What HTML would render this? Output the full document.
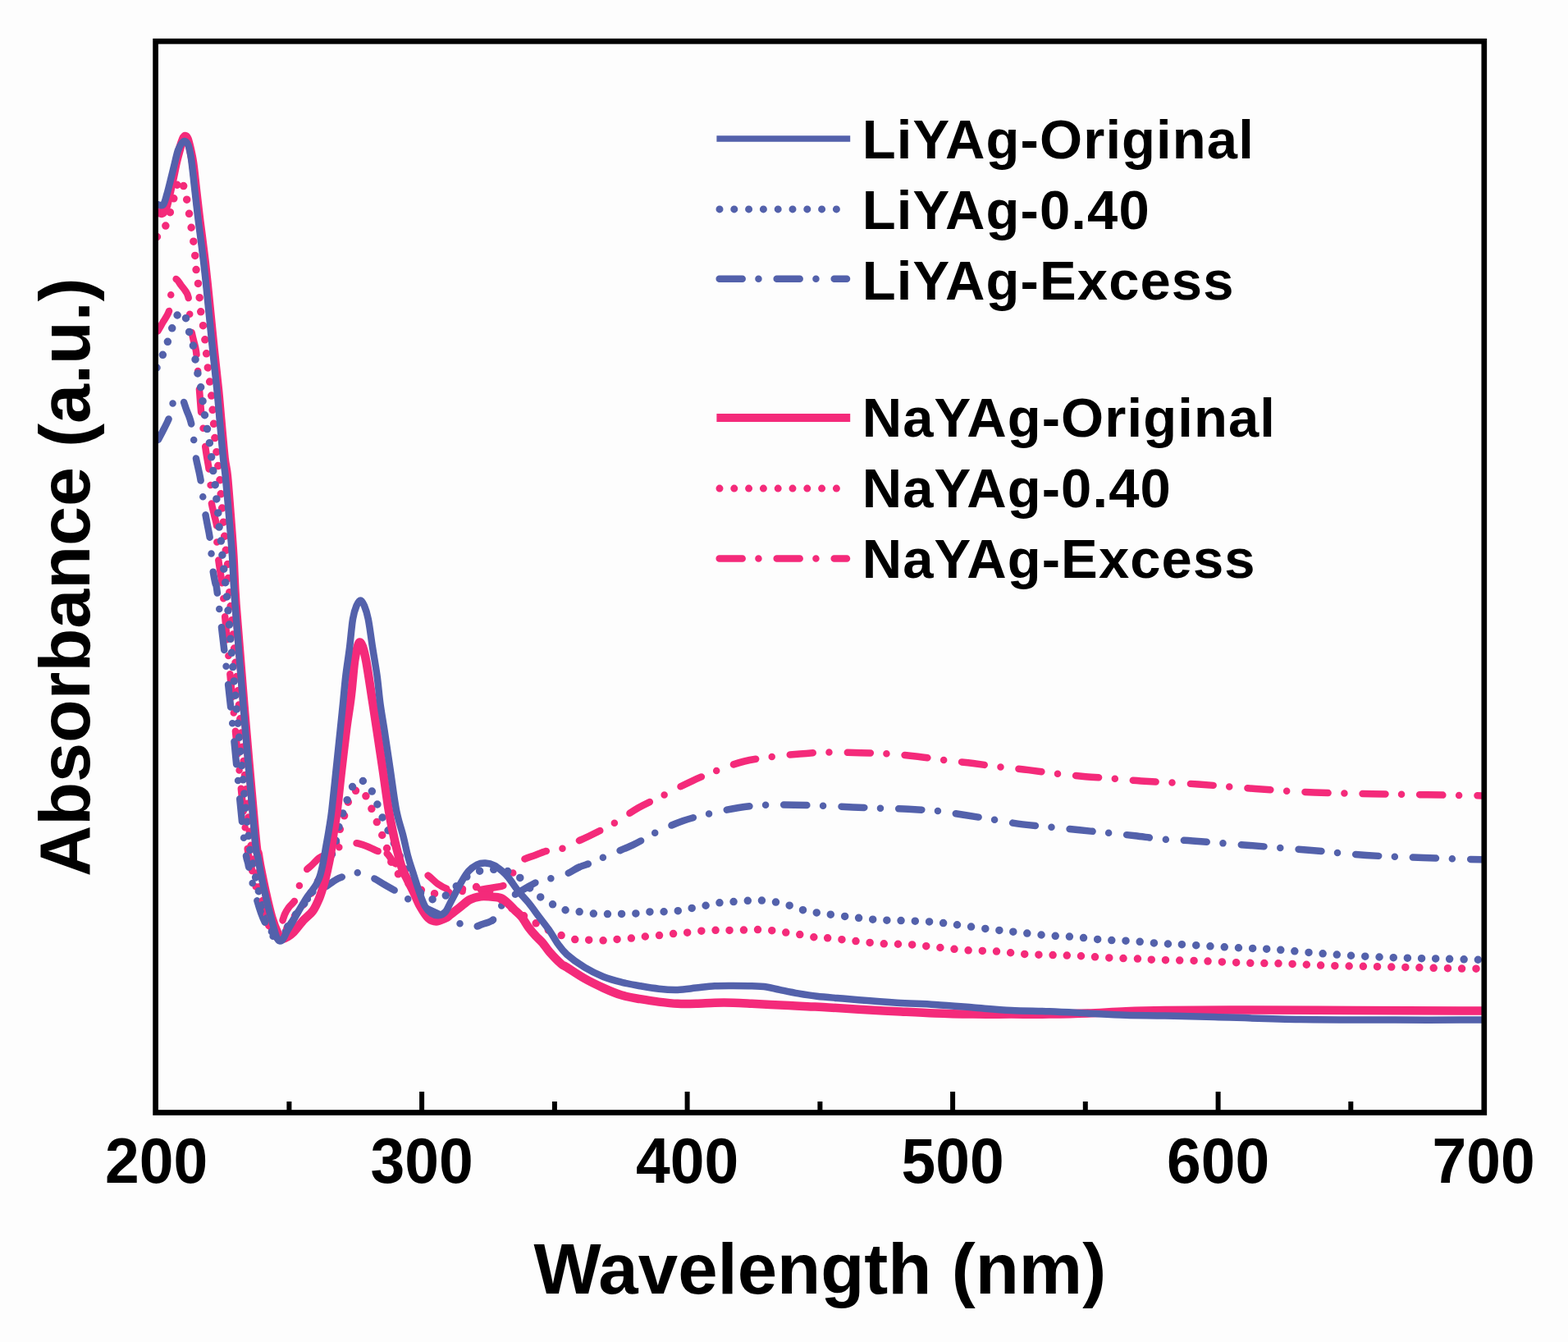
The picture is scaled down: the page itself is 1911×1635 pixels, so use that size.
<!DOCTYPE html>
<html><head><meta charset="utf-8"><style>
html,body{margin:0;padding:0;background:#fdfdfd;overflow:hidden;width:1911px;height:1635px;}
svg{display:block;}
text{font-family:"Liberation Sans",Arial,sans-serif;font-weight:bold;fill:#000;}
.tk{font-size:75px;}
.lg{font-size:67px;letter-spacing:1.1px;}
.ax{font-size:87px;}
</style></head><body>
<svg width="1911" height="1635" viewBox="0 0 1911 1635">
<rect width="1911" height="1635" fill="#fdfdfd"/>
<defs><clipPath id="c"><rect x="192" y="53" width="1614" height="1300"/></clipPath></defs>
<g clip-path="url(#c)">
<path d="M190.5,406.5 C191.8,404.3 195.4,398.1 198.0,393.5 C200.6,388.9 204.3,384.4 206.0,379.0 C207.7,373.6 207.3,366.2 208.0,361.0 C208.7,355.8 209.2,351.5 210.0,348.0 C210.8,344.5 211.5,341.2 212.5,340.0 C213.5,338.8 214.6,339.7 216.0,341.0 C217.4,342.3 219.3,345.8 221.0,348.0 C222.7,350.2 224.6,352.2 226.0,354.5 C227.4,356.8 228.7,357.8 229.5,362.0 C230.3,366.2 230.5,373.9 231.0,380.0 C231.5,386.1 231.8,392.8 232.5,398.3 C233.2,403.8 234.4,408.1 235.5,413.0 C236.6,417.9 238.1,421.8 239.0,428.0 C239.9,434.2 240.3,442.2 241.0,450.0 C241.7,457.8 242.3,466.6 243.0,475.0 C243.7,483.4 244.3,492.9 245.0,500.5 C245.7,508.1 246.7,514.4 247.4,520.8 C248.2,527.2 248.7,533.1 249.5,539.0 C250.3,544.9 251.1,550.5 252.0,556.0 C252.9,561.5 253.9,566.2 254.7,572.0 C255.5,577.8 256.1,584.2 256.6,590.8 C257.1,597.3 256.9,605.3 257.6,611.3 C258.3,617.3 259.9,621.8 261.0,627.0 C262.1,632.2 263.8,636.7 264.4,642.6 C265.0,648.5 264.1,656.0 264.4,662.2 C264.7,668.4 265.3,674.2 266.0,680.0 C266.7,685.8 267.6,691.2 268.5,697.0 C269.4,702.8 270.6,709.2 271.3,715.0 C272.0,720.8 270.4,707.4 272.5,731.6 C274.6,755.8 279.4,811.9 284.0,860.0 C288.6,908.1 296.3,987.5 300.0,1020.0" fill="none" stroke="#F42A7A" stroke-width="8.5" stroke-linejoin="round" stroke-linecap="round" stroke-dasharray="28 19.75 0 22.25" stroke-dashoffset="66.29"/>
<path d="M300.0,1020.0 C303.7,1052.5 303.8,1044.2 306.0,1055.0 C308.2,1065.8 310.5,1075.5 313.0,1085.0 C315.5,1094.5 318.3,1104.3 321.0,1112.0 C323.7,1119.7 326.5,1125.8 329.0,1131.0 C331.5,1136.2 333.9,1143.7 336.0,1143.5 C338.1,1143.3 339.9,1134.9 341.7,1130.0 C343.5,1125.1 345.3,1118.1 347.0,1114.0 C348.7,1109.9 349.8,1108.5 352.0,1105.5 C354.2,1102.5 357.9,1100.4 360.0,1096.0 C362.1,1091.6 363.0,1084.8 364.8,1079.3 C366.6,1073.8 368.5,1067.2 371.0,1063.0 C373.5,1058.8 376.9,1057.0 380.0,1054.0 C383.1,1051.0 386.2,1047.3 389.5,1045.0 C392.8,1042.7 396.6,1041.8 400.0,1040.0 C403.4,1038.2 406.7,1035.8 410.0,1034.0 C413.3,1032.2 416.8,1030.7 420.0,1029.5 C423.2,1028.3 426.0,1027.2 429.0,1027.0 C432.0,1026.8 435.0,1027.3 438.0,1028.0 C441.0,1028.7 443.2,1029.5 447.0,1031.0 C450.8,1032.5 456.4,1035.5 460.5,1037.0 C464.6,1038.5 468.4,1037.7 471.7,1040.0" fill="none" stroke="#F42A7A" stroke-width="8.5" stroke-linejoin="round" stroke-linecap="round" stroke-dasharray="28 19.75 0 22.25" stroke-dashoffset="56.35"/>
<path d="M471.7,1040.0 C475.0,1042.3 476.9,1048.3 480.3,1051.0 C483.7,1053.7 487.6,1054.5 492.0,1056.0 C496.4,1057.5 501.9,1058.0 506.8,1059.7 C511.7,1061.5 517.0,1063.7 521.4,1066.5 C525.8,1069.3 529.5,1074.0 533.4,1076.8 C537.3,1079.5 540.6,1081.5 545.0,1083.0 C549.4,1084.5 554.7,1085.7 560.0,1086.0 C565.3,1086.3 571.5,1085.5 577.0,1085.0 C582.5,1084.5 588.3,1083.5 592.8,1082.8 C597.3,1082.1 600.4,1081.7 604.0,1081.0 C607.6,1080.3 611.4,1080.5 614.2,1078.5 C617.0,1076.5 618.8,1072.0 621.0,1069.0 C623.2,1066.0 625.0,1064.0 627.7,1060.5 C630.5,1057.0 633.5,1050.9 637.5,1047.8 C641.5,1044.7 647.1,1043.9 652.0,1042.0 C656.9,1040.1 661.7,1038.0 667.0,1036.6 C672.3,1035.2 680.2,1034.2 684.0,1033.8 C687.8,1033.3 687.3,1035.0 690.0,1033.9 C692.7,1032.8 695.5,1029.5 700.0,1027.0" fill="none" stroke="#F42A7A" stroke-width="8.5" stroke-linejoin="round" stroke-linecap="round" stroke-dasharray="28 19.75 0 22.25" stroke-dashoffset="11.58"/>
<path d="M700.0,1027.0 C704.5,1024.5 708.9,1023.1 717.2,1019.0 C725.5,1014.9 739.8,1008.0 750.0,1002.2 C760.2,996.4 768.3,989.6 778.3,984.0 C788.3,978.4 799.1,973.8 810.0,968.3 C820.9,962.8 832.8,956.4 843.9,951.3 C855.0,946.2 866.2,941.7 876.7,937.7 C887.2,933.7 896.5,930.1 907.2,927.5 C918.0,924.9 929.9,923.4 941.2,921.9 C952.5,920.4 963.5,919.4 975.0,918.5 C986.5,917.6 997.7,916.7 1010.0,916.5 C1022.3,916.3 1036.5,916.9 1048.8,917.2 C1061.1,917.5 1072.1,917.6 1083.7,918.4 C1095.3,919.2 1106.8,920.4 1118.6,921.8 C1130.4,923.1 1143.4,925.1 1154.6,926.5 C1165.8,927.9 1175.2,928.6 1186.0,930.0 C1196.8,931.4 1208.5,933.2 1219.7,934.6 C1230.9,936.0 1241.8,936.7 1253.4,938.1 C1265.0,939.5 1277.8,941.4 1289.4,942.8 C1301.0,944.1 1311.6,945.2 1323.0,946.2 C1334.4,947.2 1346.8,947.7 1358.0,948.6 C1369.2,949.5 1373.4,950.4 1390.5,951.5 C1407.6,952.6 1437.2,953.9 1460.4,955.5 C1483.7,957.1 1506.4,959.3 1530.0,961.0 C1553.6,962.7 1578.3,964.5 1602.0,965.5 C1625.7,966.5 1649.1,966.7 1672.0,967.2 C1694.9,967.7 1716.1,967.9 1739.4,968.3 C1762.7,968.7 1799.9,969.3 1812.0,969.5" fill="none" stroke="#F42A7A" stroke-width="8.5" stroke-linejoin="round" stroke-linecap="round" stroke-dasharray="28 19.75 0 22.25" stroke-dashoffset="63.30"/>
<path d="M190.5,540.0 C191.8,537.7 195.8,530.3 198.0,526.0 C200.2,521.7 202.4,517.5 204.0,514.0 C205.6,510.5 206.4,508.8 207.5,505.0 C208.6,501.2 209.6,494.3 210.7,491.0 C211.8,487.7 212.9,486.3 214.0,485.0 C215.1,483.7 216.0,483.2 217.0,483.0 C218.0,482.8 219.1,483.5 220.0,484.0 C220.9,484.5 221.3,483.3 222.6,486.0 C223.8,488.7 225.8,495.3 227.5,500.0 C229.2,504.7 231.3,508.6 232.7,514.4 C234.1,520.2 235.0,527.7 236.0,534.6 C237.0,541.5 237.6,549.8 238.5,555.7 C239.4,561.6 240.5,565.3 241.5,570.0 C242.5,574.7 243.4,578.1 244.4,584.0 C245.4,589.9 246.4,598.9 247.3,605.4 C248.2,611.9 248.9,617.4 249.8,623.0 C250.7,628.6 251.7,633.8 252.7,639.0 C253.7,644.2 254.8,648.3 255.6,654.3 C256.4,660.3 256.9,668.0 257.6,674.9 C258.3,681.8 258.8,689.4 259.6,695.4 C260.4,701.4 261.5,705.8 262.5,711.0 C263.5,716.2 262.3,701.9 265.4,726.7 C268.5,751.5 275.7,811.1 281.0,860.0 C286.3,908.9 293.3,987.5 297.0,1020.0 C300.7,1052.5 300.8,1044.2 303.0,1055.0" fill="none" stroke="#5361AB" stroke-width="8.5" stroke-linejoin="round" stroke-linecap="round" stroke-dasharray="28 19.75 0 22.25" stroke-dashoffset="64.94"/>
<path d="M303.0,1055.0 C305.2,1065.8 307.5,1075.5 310.0,1085.0 C312.5,1094.5 315.3,1104.5 318.0,1112.0 C320.7,1119.5 323.3,1124.9 326.0,1130.0 C328.7,1135.1 331.7,1140.0 334.0,1142.5 C336.3,1145.0 337.8,1146.1 340.0,1145.0 C342.2,1143.9 344.2,1140.0 347.0,1136.0 C349.8,1132.0 353.5,1126.3 357.0,1121.0 C360.5,1115.7 364.2,1109.2 368.0,1104.0 C371.8,1098.8 376.0,1093.7 380.0,1090.0 C384.0,1086.3 389.0,1083.7 392.0,1082.0 C395.0,1080.3 394.8,1081.5 397.8,1079.8 C400.8,1078.0 405.9,1073.7 410.0,1071.5 C414.1,1069.3 418.9,1067.8 422.6,1066.6 C426.3,1065.3 428.9,1064.5 432.0,1064.0 C435.1,1063.5 437.6,1062.5 441.5,1063.5 C445.4,1064.5 451.0,1067.6 455.6,1070.0 C460.2,1072.4 464.3,1075.3 469.0,1078.0 C473.7,1080.7 479.1,1083.6 483.7,1086.4 C488.3,1089.2 492.1,1092.2 496.5,1094.8 C500.9,1097.4 505.2,1099.6 510.0,1102.0 C514.8,1104.4 520.0,1106.7 525.0,1109.0 C530.0,1111.3 534.9,1113.7 540.0,1116.0 C545.1,1118.3 551.3,1121.1 555.6,1123.0 C559.9,1124.9 562.6,1126.3 566.0,1127.5 C569.4,1128.7 572.5,1130.2 576.2,1129.9 C579.9,1129.7 584.0,1127.4 588.0,1126.0 C592.0,1124.6 597.2,1123.5 600.1,1121.3" fill="none" stroke="#5361AB" stroke-width="8.5" stroke-linejoin="round" stroke-linecap="round" stroke-dasharray="28 19.75 0 22.25" stroke-dashoffset="26.39"/>
<path d="M600.1,1121.3 C603.0,1119.1 603.7,1115.8 605.5,1113.0 C607.3,1110.2 608.7,1107.0 610.8,1104.2 C612.9,1101.4 615.6,1098.2 618.0,1096.0 C620.4,1093.8 621.7,1093.5 625.4,1091.3 C629.1,1089.0 635.0,1085.3 640.0,1082.5 C645.0,1079.7 650.0,1076.3 655.3,1074.2 C660.6,1072.1 666.1,1071.6 672.0,1070.0 C677.9,1068.4 684.8,1067.0 690.4,1064.8 C696.0,1062.5 700.6,1058.8 705.8,1056.5" fill="none" stroke="#5361AB" stroke-width="8.5" stroke-linejoin="round" stroke-linecap="round" stroke-dasharray="28 19.75 0 22.25" stroke-dashoffset="26.76"/>
<path d="M705.8,1056.5 C710.9,1054.2 715.8,1053.2 721.3,1051.0 C726.8,1048.8 730.3,1046.6 738.7,1043.0 C747.1,1039.4 761.1,1034.3 771.5,1029.4 C781.9,1024.5 790.7,1018.4 800.9,1013.5 C811.1,1008.6 821.7,1003.8 832.6,1000.0 C843.5,996.2 855.2,993.6 866.5,990.9 C877.8,988.2 889.4,985.7 900.5,984.0 C911.6,982.3 922.0,981.2 933.3,980.7 C944.6,980.2 956.4,980.5 968.3,980.7 C980.2,980.9 992.6,981.3 1004.5,981.8 C1016.4,982.2 1028.2,982.9 1039.5,983.4 C1050.8,983.9 1060.8,984.2 1072.0,984.6 C1083.2,985.0 1095.4,985.2 1107.0,985.8 C1118.6,986.4 1130.6,986.9 1141.8,988.0 C1153.0,989.1 1162.9,991.0 1174.3,992.7 C1185.7,994.5 1198.4,996.5 1210.4,998.5 C1222.4,1000.5 1234.6,1002.9 1246.4,1004.4 C1258.2,1005.9 1269.7,1006.6 1281.3,1007.8 C1292.9,1008.9 1304.4,1010.1 1316.0,1011.3 C1327.6,1012.5 1339.8,1013.6 1351.0,1014.8 C1362.2,1016.0 1372.3,1017.0 1383.5,1018.3 C1394.7,1019.6 1406.7,1021.5 1418.4,1022.5 C1430.1,1023.5 1436.0,1023.2 1453.5,1024.5 C1471.0,1025.8 1499.6,1028.1 1523.2,1030.0 C1546.8,1031.9 1571.7,1033.7 1595.3,1035.7 C1618.9,1037.7 1641.8,1040.5 1665.0,1042.0 C1688.2,1043.5 1710.2,1044.1 1734.7,1045.0 C1759.2,1045.9 1799.1,1047.1 1812.0,1047.5" fill="none" stroke="#5361AB" stroke-width="8.5" stroke-linejoin="round" stroke-linecap="round" stroke-dasharray="28 19.75 0 22.25" stroke-dashoffset="16.17"/>
<path d="M191.4,288.5 C192.3,287.4 195.2,284.4 197.0,282.0 C198.8,279.6 200.7,277.9 202.4,273.9 C204.2,269.9 205.8,263.8 207.5,258.0 C209.2,252.2 211.1,244.5 212.5,239.0 C213.9,233.5 214.8,228.4 216.0,225.0 C217.2,221.6 218.2,218.3 219.5,218.5 C220.8,218.7 222.4,223.1 223.5,226.0 C224.6,228.9 225.2,232.8 226.0,236.0 C226.8,239.2 227.3,240.9 228.1,245.4 C228.9,249.9 230.0,257.0 230.9,262.8 C231.8,268.6 232.7,274.4 233.6,280.3 C234.5,286.2 235.6,292.2 236.4,298.3 C237.2,304.4 237.7,310.7 238.2,316.6 C238.7,322.6 238.9,328.3 239.6,334.0 C240.3,339.7 241.6,345.1 242.3,351.0 C243.0,356.9 243.1,363.4 243.7,369.4 C244.2,375.4 244.8,381.1 245.6,386.8 C246.4,392.5 248.0,397.9 248.8,403.8 C249.6,409.7 250.0,416.2 250.6,422.0 C251.2,427.8 251.8,432.5 252.4,438.3 C253.0,444.1 253.5,450.7 254.3,456.6 C255.1,462.6 256.3,468.0 257.0,474.0 C257.7,480.0 257.9,486.4 258.4,492.4 C258.9,498.4 259.8,504.0 260.2,509.8 C260.6,515.6 260.6,521.4 261.1,527.2 C261.6,533.0 262.8,539.2 263.4,544.7 C264.0,550.2 264.1,554.5 264.8,560.3 C265.5,566.1 266.8,573.3 267.5,579.4 C268.2,585.5 268.3,591.1 268.8,597.0 C269.3,602.9 269.8,609.1 270.3,615.0 C270.8,620.9 271.5,626.9 272.0,632.6 C272.5,638.3 272.9,643.8 273.3,649.4 C273.8,655.0 274.1,660.3 274.7,666.0 C275.3,671.7 276.6,678.0 277.2,683.7 C277.8,689.4 277.9,694.3 278.3,700.3 C278.7,706.3 277.4,693.2 279.6,719.8 C281.8,746.4 287.3,810.0 291.5,860.0 C295.7,910.0 301.9,988.3 305.0,1020.0 C308.1,1051.7 308.2,1040.0 310.0,1050.0 C311.8,1060.0 313.7,1070.0 316.0,1080.0 C318.3,1090.0 321.5,1101.7 324.0,1110.0 C326.5,1118.3 328.8,1124.5 331.0,1130.0 C333.2,1135.5 335.5,1141.0 337.5,1143.0 C339.5,1145.0 340.8,1144.3 343.0,1142.0 C345.2,1139.7 347.7,1134.2 351.0,1129.0 C354.3,1123.8 358.8,1117.0 363.0,1111.0 C367.2,1105.0 371.7,1099.7 376.0,1093.0 C380.3,1086.3 385.0,1078.5 389.0,1071.0 C393.0,1063.5 396.9,1054.0 400.0,1048.0 C403.1,1042.0 405.9,1039.7 407.7,1035.0 C409.5,1030.3 409.6,1024.9 411.0,1020.0 C412.4,1015.1 414.3,1010.7 416.0,1005.5 C417.7,1000.3 419.4,994.5 421.0,989.0 C422.6,983.5 424.2,976.5 425.9,972.5 C427.6,968.5 429.1,966.8 431.0,965.0 C432.9,963.2 435.7,962.3 437.5,962.0 C439.3,961.7 440.0,960.5 442.0,963.0 C444.0,965.5 446.9,971.8 449.3,976.9 C451.7,982.0 453.8,987.8 456.1,993.5 C458.4,999.2 460.8,1005.4 463.0,1011.0 C465.2,1016.6 467.5,1021.0 469.6,1027.0 C471.7,1033.0 473.3,1041.3 475.4,1046.8 C477.5,1052.3 479.6,1056.1 482.0,1060.0 C484.4,1063.9 486.7,1066.8 490.0,1070.0 C493.3,1073.2 497.8,1076.5 502.0,1079.0 C506.2,1081.5 510.9,1083.4 515.0,1085.0 C519.1,1086.6 521.7,1088.0 526.5,1088.5 C531.3,1089.0 538.0,1088.8 543.6,1088.0 C549.2,1087.2 554.4,1085.2 560.0,1084.0 C565.6,1082.8 571.6,1080.6 577.0,1080.5 C582.4,1080.4 587.5,1081.4 592.5,1083.5 C597.5,1085.6 602.4,1089.6 607.0,1093.0 C611.6,1096.4 615.5,1100.7 620.0,1104.0 C624.5,1107.3 629.2,1110.0 634.0,1113.0 C638.8,1116.0 643.5,1119.0 648.5,1122.0 C653.5,1125.0 658.9,1128.4 664.0,1131.0 C669.1,1133.6 673.8,1135.4 679.3,1137.6 C684.8,1139.8 691.5,1142.8 697.0,1144.0 C702.5,1145.2 707.0,1144.5 712.6,1144.8 C718.2,1145.1 725.0,1145.9 730.7,1145.9 C736.4,1145.9 740.9,1145.2 746.6,1144.8 C752.3,1144.4 758.9,1144.2 764.7,1143.6 C770.5,1143.0 776.0,1142.0 781.6,1141.4 C787.2,1140.8 792.9,1140.8 798.6,1140.2 C804.3,1139.6 809.9,1138.6 815.6,1138.0 C821.3,1137.4 826.8,1137.4 832.6,1136.8 C838.5,1136.2 844.7,1135.2 850.7,1134.6 C856.7,1134.0 863.1,1133.6 868.8,1133.4 C874.4,1133.2 879.0,1133.4 884.6,1133.4 C890.2,1133.4 896.9,1133.4 902.7,1133.2 C908.6,1133.0 913.9,1132.5 919.7,1132.5 C925.6,1132.5 931.9,1132.9 937.8,1133.4 C943.6,1133.9 949.1,1134.9 954.8,1135.7 C960.4,1136.5 966.1,1137.0 971.7,1138.0 C977.4,1139.0 983.0,1140.7 988.7,1141.4 C994.4,1142.2 997.2,1141.7 1005.7,1142.5 C1014.2,1143.3 1028.0,1145.0 1039.5,1146.2 C1051.0,1147.4 1062.8,1148.8 1074.4,1149.6 C1086.0,1150.4 1097.7,1150.0 1109.3,1150.8 C1120.9,1151.6 1132.5,1153.1 1144.1,1154.3 C1155.7,1155.5 1167.4,1157.0 1179.0,1157.8 C1190.6,1158.6 1202.3,1158.2 1213.9,1159.0 C1225.5,1159.8 1237.1,1161.6 1248.7,1162.4 C1260.3,1163.2 1272.0,1163.2 1283.6,1163.6 C1295.2,1164.0 1306.9,1164.2 1318.5,1164.8 C1330.1,1165.4 1341.3,1166.4 1353.3,1167.0 C1365.3,1167.6 1381.2,1167.8 1390.5,1168.2 C1399.8,1168.6 1397.3,1169.0 1409.0,1169.4 C1420.7,1169.8 1442.9,1170.0 1460.4,1170.6 C1477.9,1171.2 1496.6,1172.4 1514.0,1173.0 C1531.4,1173.6 1547.6,1173.4 1565.0,1174.0 C1582.4,1174.6 1600.7,1175.8 1618.5,1176.4 C1636.3,1177.0 1654.6,1177.1 1672.0,1177.5 C1689.4,1177.9 1706.0,1178.3 1723.0,1178.7 C1740.0,1179.1 1759.2,1179.7 1774.0,1179.9 C1788.8,1180.2 1805.7,1180.2 1812.0,1180.2" fill="none" stroke="#F42A7A" stroke-width="9.5" stroke-linejoin="round" stroke-linecap="round" stroke-dasharray="0 17.2"/>
<path d="M191.0,448.0 C192.3,445.2 196.4,437.0 198.8,431.3 C201.2,425.6 203.2,419.6 205.2,413.9 C207.2,408.2 209.0,401.7 210.7,396.9 C212.4,392.1 213.8,387.9 215.5,385.0 C217.2,382.1 219.3,379.5 221.0,379.5 C222.7,379.5 224.2,382.4 225.5,385.0 C226.8,387.6 227.4,390.9 228.5,395.0 C229.6,399.1 230.4,404.0 231.8,409.3 C233.2,414.6 235.7,420.9 236.8,426.7 C238.0,432.4 237.8,438.1 238.7,443.8 C239.6,449.6 241.1,455.4 242.3,461.2 C243.5,467.0 245.1,472.8 246.0,478.6 C246.9,484.4 247.0,490.2 247.8,496.0 C248.6,501.8 250.0,507.7 251.0,513.5 C252.0,519.3 252.8,525.0 253.8,531.0 C254.8,537.0 256.2,543.5 257.0,549.3 C257.8,555.1 257.6,560.2 258.4,565.8 C259.1,571.4 260.7,577.0 261.5,583.0 C262.3,589.0 262.4,595.5 263.0,601.5 C263.6,607.5 264.8,613.1 265.4,619.0 C266.0,624.9 265.8,631.0 266.4,636.7 C267.0,642.4 268.2,647.6 268.9,653.3 C269.5,659.0 269.7,665.3 270.3,671.0 C270.9,676.7 271.7,681.8 272.3,687.6 C272.9,693.4 273.1,700.0 273.7,706.0 C274.3,712.0 273.8,698.1 276.2,723.8 C278.6,749.5 283.5,810.6 288.0,860.0 C292.5,909.4 299.7,988.3 303.0,1020.0 C306.3,1051.7 306.2,1040.0 308.0,1050.0 C309.8,1060.0 311.7,1070.0 314.0,1080.0 C316.3,1090.0 319.3,1101.3 322.0,1110.0 C324.7,1118.7 327.5,1126.3 330.0,1132.0 C332.5,1137.7 335.0,1142.1 337.0,1144.0 C339.0,1145.9 339.8,1145.8 342.0,1143.5 C344.2,1141.2 346.7,1135.2 350.0,1130.0 C353.3,1124.8 357.8,1117.8 362.0,1112.0 C366.2,1106.2 370.7,1101.2 375.0,1095.0 C379.3,1088.8 383.8,1082.5 388.0,1075.0 C392.2,1067.5 396.7,1057.0 400.0,1050.0 C403.3,1043.0 405.9,1038.5 407.7,1032.7 C409.5,1026.9 409.6,1021.0 411.0,1015.0 C412.4,1009.0 414.3,1002.7 416.0,997.0 C417.7,991.3 419.1,986.3 421.0,980.7 C422.9,975.1 425.8,967.7 427.5,963.4 C429.2,959.1 430.2,957.1 431.5,955.0 C432.8,952.9 433.4,951.7 435.0,951.0 C436.6,950.3 438.6,950.1 441.0,951.0 C443.4,951.9 446.6,952.7 449.3,956.4 C452.0,960.1 454.7,967.5 457.1,973.0 C459.5,978.5 461.3,984.1 463.5,989.6 C465.7,995.1 468.0,1000.6 470.4,1006.0 C472.8,1011.4 475.4,1016.6 477.9,1022.0 C480.4,1027.4 482.9,1033.0 485.3,1038.5 C487.7,1044.0 489.6,1049.8 492.0,1055.0 C494.4,1060.2 497.0,1065.0 500.0,1070.0 C503.0,1075.0 506.7,1081.0 510.0,1085.0 C513.3,1089.0 517.2,1092.2 520.0,1094.0 C522.8,1095.8 524.2,1095.4 526.5,1095.6 C528.8,1095.8 531.7,1095.4 534.0,1095.0 C536.3,1094.6 537.5,1094.5 540.2,1093.0 C542.9,1091.5 546.7,1088.8 550.0,1086.0 C553.3,1083.2 556.3,1079.3 560.0,1076.0 C563.7,1072.7 567.0,1068.7 572.0,1066.0 C577.0,1063.3 583.7,1061.0 590.0,1060.0 C596.3,1059.0 603.7,1059.2 610.0,1060.0 C616.3,1060.8 622.8,1062.2 628.0,1065.0 C633.2,1067.8 636.9,1073.0 641.0,1077.0 C645.1,1081.0 648.1,1085.1 652.8,1088.8 C657.5,1092.5 663.7,1095.9 669.0,1099.0 C674.3,1102.1 678.9,1105.7 684.5,1107.6 C690.1,1109.5 696.2,1109.3 702.4,1110.2 C708.6,1111.1 715.7,1112.5 721.7,1113.0 C727.8,1113.5 733.1,1113.4 738.7,1113.5 C744.4,1113.6 749.8,1113.6 755.6,1113.5 C761.4,1113.4 767.9,1113.4 773.7,1113.0 C779.6,1112.6 785.0,1111.4 790.7,1111.0 C796.4,1110.6 801.9,1111.0 807.7,1110.8 C813.6,1110.6 819.8,1110.5 825.8,1109.7 C831.8,1109.0 837.9,1107.4 843.9,1106.3 C849.9,1105.2 856.1,1104.0 862.0,1102.9 C867.9,1101.8 873.3,1100.2 879.0,1099.5 C884.7,1098.8 890.2,1098.9 896.0,1098.5 C901.8,1098.1 908.2,1097.4 914.0,1097.2 C919.8,1097.0 925.3,1096.8 931.0,1097.2 C936.7,1097.6 942.3,1098.4 948.0,1099.5 C953.7,1100.6 959.3,1102.3 965.0,1104.0 C970.7,1105.7 976.2,1108.3 982.0,1109.7 C987.8,1111.1 991.2,1111.3 1000.0,1112.5 C1008.8,1113.7 1023.3,1115.7 1034.9,1117.0 C1046.5,1118.3 1058.1,1119.8 1069.7,1120.6 C1081.3,1121.4 1093.0,1121.3 1104.6,1121.8 C1116.2,1122.3 1128.3,1122.5 1139.5,1123.5 C1150.7,1124.5 1160.8,1126.0 1172.0,1127.5 C1183.2,1129.0 1195.7,1130.8 1206.9,1132.2 C1218.1,1133.6 1228.2,1134.5 1239.4,1135.7 C1250.6,1136.9 1262.7,1138.5 1274.3,1139.5 C1285.9,1140.5 1297.6,1140.6 1309.2,1141.5 C1320.8,1142.4 1332.4,1144.2 1344.0,1145.0 C1355.6,1145.8 1367.3,1145.8 1378.9,1146.5 C1390.5,1147.2 1402.5,1148.8 1413.8,1149.5 C1425.1,1150.2 1432.1,1150.2 1446.5,1151.0 C1460.9,1151.8 1482.6,1153.4 1500.0,1154.3 C1517.4,1155.2 1534.0,1155.5 1551.0,1156.6 C1568.0,1157.7 1584.8,1159.6 1602.2,1161.0 C1619.7,1162.4 1637.9,1163.8 1655.7,1164.8 C1673.5,1165.8 1691.6,1166.4 1709.0,1167.0 C1726.4,1167.6 1743.1,1167.8 1760.3,1168.2 C1777.5,1168.6 1803.4,1169.3 1812.0,1169.5" fill="none" stroke="#5361AB" stroke-width="9.5" stroke-linejoin="round" stroke-linecap="round" stroke-dasharray="0 17.2"/>
<path d="M191.5,257.0 C192.4,257.5 195.2,260.5 197.0,260.0 C198.8,259.5 200.5,257.7 202.0,254.0 C203.5,250.3 204.6,244.0 206.0,238.0 C207.4,232.0 209.0,224.8 210.5,218.0 C212.0,211.2 213.5,203.3 215.0,197.0 C216.5,190.7 218.2,184.6 219.5,180.0 C220.8,175.4 222.0,171.8 223.0,169.5 C224.0,167.2 224.7,166.1 225.6,166.0 C226.5,165.9 227.5,166.7 228.5,169.0 C229.5,171.3 230.4,175.2 231.5,180.0 C232.6,184.8 234.1,191.5 235.1,198.0 C236.1,204.5 236.7,210.8 237.6,218.8 C238.5,226.9 239.7,237.9 240.7,246.3 C241.7,254.7 242.4,261.4 243.4,269.3 C244.4,277.2 245.6,285.9 246.6,294.0 C247.6,302.1 248.6,309.5 249.6,318.0 C250.6,326.5 251.5,334.4 252.6,345.0 C253.7,355.6 254.9,367.9 256.3,381.7 C257.7,395.5 259.3,411.9 260.9,427.6 C262.5,443.3 264.7,461.7 266.1,475.9 C267.5,490.1 268.1,498.9 269.4,512.6 C270.6,526.3 272.4,546.8 273.6,558.0 C274.9,569.2 275.7,568.2 276.9,580.0 C278.1,591.8 279.6,612.6 280.9,628.9 C282.1,645.2 283.3,659.9 284.4,677.8 C285.5,695.7 285.3,706.1 287.5,736.5 C289.7,766.9 293.5,812.8 297.5,860.0 C301.5,907.2 308.6,990.0 311.5,1020.0 C314.4,1050.0 313.6,1033.7 314.7,1040.0 C315.8,1046.3 316.3,1050.4 317.8,1058.0 C319.3,1065.6 321.3,1075.8 323.5,1085.7 C325.7,1095.6 328.6,1108.6 331.2,1117.5 C333.8,1126.4 337.3,1134.6 339.3,1139.0 C341.3,1143.4 341.2,1143.6 343.0,1144.0 C344.8,1144.4 347.6,1142.9 350.0,1141.5 C352.4,1140.1 354.4,1139.1 357.6,1135.8 C360.9,1132.5 365.5,1125.9 369.5,1121.5 C373.5,1117.1 378.2,1114.2 381.5,1109.5 C384.8,1104.8 387.2,1098.8 389.4,1093.6 C391.6,1088.3 392.9,1083.6 394.5,1078.0 C396.1,1072.4 397.6,1066.3 399.0,1060.0 C400.4,1053.7 401.8,1047.5 403.0,1040.0 C404.2,1032.5 405.2,1023.9 406.5,1015.0 C407.8,1006.1 409.2,999.6 410.8,986.7 C412.4,973.8 414.3,954.1 416.2,937.8 C418.1,921.5 420.3,902.4 422.0,888.9 C423.7,875.4 425.5,865.2 426.6,857.0 C427.7,848.8 427.8,848.4 428.7,839.9 C429.6,831.4 431.0,814.2 432.1,805.7 C433.2,797.2 434.4,792.9 435.5,789.0 C436.6,785.1 437.4,782.7 438.5,782.5 C439.6,782.3 440.7,784.1 442.0,788.0 C443.3,791.9 444.7,797.1 446.3,805.7 C447.9,814.4 450.5,831.4 451.8,839.9 C453.1,848.4 453.1,848.8 454.4,857.0 C455.6,865.2 457.3,875.4 459.3,888.9 C461.3,902.4 464.2,921.5 466.6,937.8 C469.0,954.1 471.7,974.3 473.7,986.7 C475.7,999.1 476.9,1004.5 478.5,1012.0 C480.1,1019.5 481.1,1024.5 483.0,1032.0 C484.9,1039.5 487.6,1050.7 489.7,1057.0 C491.8,1063.3 493.3,1065.0 495.7,1070.0 C498.1,1075.0 501.5,1081.3 504.2,1087.0 C506.9,1092.7 509.0,1098.8 512.0,1104.0 C515.0,1109.2 518.7,1115.4 522.0,1118.5 C525.3,1121.6 528.1,1122.5 531.6,1122.5 C535.1,1122.5 540.7,1119.6 543.3,1118.5 C545.9,1117.4 544.2,1118.1 547.0,1116.0 C549.8,1113.9 555.6,1109.2 559.9,1105.9 C564.2,1102.6 568.4,1098.3 572.7,1096.0 C577.0,1093.7 581.3,1092.8 585.6,1092.2 C589.9,1091.6 594.3,1092.2 598.4,1092.5 C602.5,1092.8 606.6,1092.8 610.0,1094.0 C613.4,1095.2 615.7,1097.6 618.5,1100.0 C621.3,1102.4 624.1,1105.7 627.0,1108.5 C629.9,1111.3 632.8,1113.4 635.7,1117.0 C638.6,1120.6 641.4,1126.1 644.2,1129.9 C647.1,1133.8 649.9,1137.0 652.8,1140.1 C655.6,1143.2 658.4,1145.4 661.3,1148.7 C664.1,1152.0 666.1,1155.7 669.9,1160.0 C673.7,1164.3 680.6,1171.4 684.0,1174.4 C687.4,1177.4 685.2,1175.0 690.0,1178.0 C694.8,1181.0 705.1,1188.0 712.6,1192.3 C720.1,1196.6 727.8,1200.2 735.3,1203.6 C742.8,1207.0 750.4,1210.3 757.9,1212.6 C765.4,1214.9 773.0,1215.9 780.5,1217.2 C788.0,1218.5 795.5,1219.7 803.0,1220.6 C810.5,1221.5 818.2,1222.4 825.8,1222.8 C833.4,1223.2 840.9,1223.0 848.4,1222.8 C855.9,1222.6 863.5,1221.9 871.0,1221.7 C878.5,1221.5 886.2,1221.5 893.7,1221.7 C901.2,1221.9 908.8,1222.4 916.3,1222.8 C923.8,1223.2 931.3,1223.6 938.9,1224.0 C946.5,1224.4 954.0,1224.7 961.6,1225.1 C969.2,1225.5 976.1,1225.8 984.2,1226.2 C992.3,1226.6 999.6,1226.8 1010.0,1227.4 C1020.4,1228.0 1032.7,1229.0 1046.5,1229.8 C1060.3,1230.6 1077.5,1231.4 1093.0,1232.2 C1108.5,1233.0 1124.0,1233.9 1139.5,1234.5 C1155.0,1235.1 1170.5,1235.4 1186.0,1235.6 C1201.5,1235.8 1216.9,1235.6 1232.4,1235.6 C1247.9,1235.6 1263.5,1235.8 1279.0,1235.6 C1294.5,1235.4 1309.9,1235.1 1325.4,1234.5 C1340.9,1233.9 1356.2,1232.8 1372.0,1232.2 C1387.8,1231.6 1398.7,1231.3 1420.0,1231.0 C1441.3,1230.7 1461.7,1230.5 1500.0,1230.5 C1538.3,1230.5 1598.0,1230.8 1650.0,1231.0 C1702.0,1231.2 1785.0,1231.4 1812.0,1231.5" fill="none" stroke="#F42A7A" stroke-width="10.5" stroke-linejoin="round" stroke-linecap="butt"/>
<path d="M191.9,249.0 C193.1,249.1 196.9,251.5 198.8,249.5 C200.7,247.5 201.8,242.1 203.3,237.0 C204.8,231.9 206.5,224.9 208.0,218.8 C209.5,212.7 211.0,206.5 212.5,200.5 C214.0,194.5 215.5,187.3 217.0,183.0 C218.5,178.7 220.1,176.3 221.5,174.5 C222.9,172.7 224.1,171.6 225.4,172.0 C226.7,172.4 228.3,174.0 229.5,177.0 C230.7,180.0 231.6,184.8 232.5,190.0 C233.4,195.2 234.1,201.7 234.8,208.0 C235.6,214.3 236.2,221.0 237.0,228.0 C237.8,235.0 238.7,242.8 239.5,250.0 C240.3,257.2 241.1,263.7 242.0,271.0 C242.9,278.3 244.0,286.2 245.0,294.0 C246.0,301.8 247.0,309.5 248.0,318.0 C249.0,326.5 249.9,334.4 251.0,345.0 C252.1,355.6 253.3,367.9 254.7,381.7 C256.1,395.5 257.7,411.9 259.3,427.6 C260.9,443.3 263.1,461.7 264.5,475.9 C265.9,490.1 266.6,498.9 267.8,512.6 C269.1,526.3 270.9,546.8 272.0,558.0 C273.1,569.2 273.5,568.2 274.7,580.0 C275.9,591.8 277.7,612.6 279.1,628.9 C280.5,645.2 281.8,659.9 283.0,677.8 C284.2,695.7 284.2,706.1 286.5,736.5 C288.8,766.9 292.5,812.8 296.5,860.0 C300.5,907.2 307.5,989.2 310.5,1020.0 C313.5,1050.8 313.1,1036.7 314.5,1045.0 C315.9,1053.3 317.4,1061.9 319.0,1070.0 C320.6,1078.1 322.4,1086.1 324.2,1093.6 C325.9,1101.1 327.8,1108.4 329.5,1115.0 C331.2,1121.6 333.2,1128.8 334.5,1133.4 C335.8,1138.0 336.4,1140.3 337.5,1142.5 C338.6,1144.7 339.8,1146.2 341.0,1146.5 C342.2,1146.8 343.6,1145.9 345.0,1144.0 C346.4,1142.1 347.9,1138.2 349.6,1135.0 C351.4,1131.8 353.5,1128.5 355.5,1125.0 C357.5,1121.5 359.6,1117.5 361.6,1114.0 C363.6,1110.5 365.5,1107.3 367.5,1104.0 C369.5,1100.7 371.5,1097.0 373.5,1094.0 C375.5,1091.0 377.5,1088.8 379.5,1086.0 C381.5,1083.2 383.6,1080.7 385.4,1077.5 C387.1,1074.3 388.6,1071.6 390.0,1067.0 C391.4,1062.4 392.8,1056.2 394.0,1050.0 C395.2,1043.8 396.3,1036.7 397.5,1030.0 C398.7,1023.3 399.9,1017.2 401.0,1010.0 C402.1,1002.8 403.0,998.7 404.4,986.7 C405.8,974.7 407.9,954.1 409.6,937.8 C411.3,921.5 413.3,902.4 414.7,888.9 C416.1,875.4 416.9,868.0 418.0,857.0 C419.1,846.0 420.0,834.2 421.4,822.8 C422.8,811.4 424.7,799.9 426.1,788.5 C427.5,777.1 428.6,762.7 430.0,754.3 C431.4,745.9 432.9,741.8 434.5,738.0 C436.1,734.2 437.8,731.5 439.4,731.5 C441.0,731.5 442.4,734.2 444.0,738.0 C445.6,741.8 447.1,745.9 448.8,754.3 C450.5,762.7 452.2,777.1 454.0,788.5 C455.8,799.9 457.9,811.4 459.5,822.8 C461.1,834.2 461.9,846.0 463.4,857.0 C464.9,868.0 466.3,875.4 468.4,888.9 C470.4,902.4 473.3,921.5 475.7,937.8 C478.1,954.1 480.4,973.2 483.0,986.7 C485.6,1000.2 489.0,1009.0 491.4,1018.6 C493.8,1028.2 495.3,1036.4 497.4,1044.2 C499.5,1052.0 501.9,1058.6 504.2,1065.7 C506.5,1072.8 508.8,1080.6 511.1,1087.0 C513.4,1093.4 515.6,1099.9 518.0,1104.2 C520.4,1108.5 523.0,1110.9 525.7,1112.7 C528.4,1114.5 531.4,1115.6 534.2,1115.3 C537.1,1115.0 540.4,1113.6 542.8,1111.0 C545.2,1108.4 546.7,1103.9 548.8,1099.9 C550.9,1095.9 553.3,1091.3 555.6,1087.0 C557.9,1082.7 559.9,1078.5 562.5,1074.2 C565.1,1069.9 567.9,1064.9 571.0,1061.4 C574.1,1058.0 577.9,1055.2 581.3,1053.5 C584.7,1051.8 588.0,1051.3 591.6,1051.5 C595.2,1051.7 599.3,1052.8 602.7,1054.5 C606.1,1056.2 609.1,1058.9 612.0,1061.4 C614.9,1063.9 616.8,1065.5 620.0,1069.5 C623.2,1073.5 627.4,1080.2 631.4,1085.3 C635.4,1090.4 639.9,1094.6 644.2,1099.9 C648.5,1105.2 652.7,1111.3 657.0,1117.0 C661.3,1122.7 666.1,1128.6 669.9,1134.1 C673.7,1139.6 676.5,1145.2 680.0,1150.0 C683.5,1154.8 685.6,1158.2 691.0,1163.0 C696.4,1167.8 705.2,1174.2 712.6,1178.7 C720.0,1183.2 727.8,1187.0 735.3,1190.0 C742.8,1193.0 750.4,1194.9 757.9,1196.8 C765.4,1198.7 773.0,1200.0 780.5,1201.3 C788.0,1202.6 795.5,1203.9 803.0,1204.7 C810.5,1205.5 818.2,1206.1 825.8,1205.9 C833.4,1205.7 840.9,1204.4 848.4,1203.6 C855.9,1202.8 863.5,1201.7 871.0,1201.3 C878.5,1200.9 886.2,1201.0 893.7,1201.0 C901.2,1201.0 909.5,1201.0 916.3,1201.3 C923.1,1201.5 928.8,1201.7 934.4,1202.5 C940.0,1203.3 943.8,1204.6 950.2,1205.9 C956.6,1207.2 965.4,1209.1 972.9,1210.4 C980.4,1211.7 987.6,1212.9 995.5,1213.8 C1003.4,1214.7 1011.5,1215.3 1020.0,1216.0 C1028.5,1216.7 1034.3,1217.2 1046.5,1218.2 C1058.7,1219.2 1077.5,1220.7 1093.0,1221.7 C1108.5,1222.7 1124.0,1223.0 1139.5,1224.0 C1155.0,1225.0 1170.5,1226.3 1186.0,1227.5 C1201.5,1228.7 1216.9,1230.2 1232.4,1231.0 C1247.9,1231.8 1263.5,1231.6 1279.0,1232.2 C1294.5,1232.8 1309.9,1233.7 1325.4,1234.5 C1340.9,1235.3 1356.2,1236.3 1372.0,1236.8 C1387.8,1237.3 1402.0,1237.1 1420.0,1237.5 C1438.0,1237.9 1452.5,1238.2 1480.0,1239.0 C1507.5,1239.8 1548.3,1241.4 1585.0,1242.0 C1621.7,1242.6 1662.2,1242.5 1700.0,1242.6 C1737.8,1242.7 1793.3,1242.6 1812.0,1242.6" fill="none" stroke="#5361AB" stroke-width="8.5" stroke-linejoin="round" stroke-linecap="butt"/>
</g>
<line x1="352.4" y1="1342" x2="352.4" y2="1356" stroke="#000" stroke-width="6"/>
<line x1="514.1" y1="1330" x2="514.1" y2="1356" stroke="#000" stroke-width="6"/>
<line x1="675.9" y1="1342" x2="675.9" y2="1356" stroke="#000" stroke-width="6"/>
<line x1="837.6" y1="1330" x2="837.6" y2="1356" stroke="#000" stroke-width="6"/>
<line x1="999.4" y1="1342" x2="999.4" y2="1356" stroke="#000" stroke-width="6"/>
<line x1="1161.1" y1="1330" x2="1161.1" y2="1356" stroke="#000" stroke-width="6"/>
<line x1="1322.8" y1="1342" x2="1322.8" y2="1356" stroke="#000" stroke-width="6"/>
<line x1="1484.6" y1="1330" x2="1484.6" y2="1356" stroke="#000" stroke-width="6"/>
<line x1="1646.3" y1="1342" x2="1646.3" y2="1356" stroke="#000" stroke-width="6"/>
<rect x="189.6" y="50.3" width="1619.2" height="1305.2" fill="none" stroke="#000" stroke-width="6.7"/>
<text transform="translate(190.6,1441) scale(1,1.04)" text-anchor="middle" class="tk">200</text>
<text transform="translate(514.1,1441) scale(1,1.04)" text-anchor="middle" class="tk">300</text>
<text transform="translate(837.6,1441) scale(1,1.04)" text-anchor="middle" class="tk">400</text>
<text transform="translate(1161.1,1441) scale(1,1.04)" text-anchor="middle" class="tk">500</text>
<text transform="translate(1484.6,1441) scale(1,1.04)" text-anchor="middle" class="tk">600</text>
<text transform="translate(1808.1,1441) scale(1,1.04)" text-anchor="middle" class="tk">700</text>
<line x1="873.4" y1="169.0" x2="1036.2" y2="169.0" stroke="#5361AB" stroke-width="7.5" stroke-linecap="butt"/>
<text x="1050.7" y="193.4" class="lg">LiYAg-Original</text>
<line x1="877.0" y1="254.9" x2="1020.0" y2="254.9" stroke="#5361AB" stroke-width="9" stroke-linecap="round" stroke-dasharray="0 17.8"/>
<text x="1050.7" y="279.4" class="lg">LiYAg-0.40</text>
<line x1="876.7" y1="339.8" x2="1032.0" y2="339.8" stroke="#5361AB" stroke-width="8.5" stroke-linecap="round" stroke-dasharray="28 19.75 0 22.25"/>
<text x="1050.7" y="364.6" class="lg">LiYAg-Excess</text>
<line x1="873.4" y1="508.9" x2="1036.2" y2="508.9" stroke="#F42A7A" stroke-width="10" stroke-linecap="butt"/>
<text x="1050.7" y="532.1" class="lg">NaYAg-Original</text>
<line x1="877.0" y1="595.1" x2="1020.0" y2="595.1" stroke="#F42A7A" stroke-width="9" stroke-linecap="round" stroke-dasharray="0 17.8"/>
<text x="1050.7" y="617.9" class="lg">NaYAg-0.40</text>
<line x1="876.7" y1="680.5" x2="1032.0" y2="680.5" stroke="#F42A7A" stroke-width="8.5" stroke-linecap="round" stroke-dasharray="28 19.75 0 22.25"/>
<text x="1050.7" y="704.1" class="lg">NaYAg-Excess</text>
<text x="999.3" y="1576" text-anchor="middle" class="ax">Wavelength (nm)</text>
<text transform="translate(108.5,703.3) rotate(-90) scale(0.993,1)" text-anchor="middle" class="ax">Absorbance (a.u.)</text>
</svg>
</body></html>
